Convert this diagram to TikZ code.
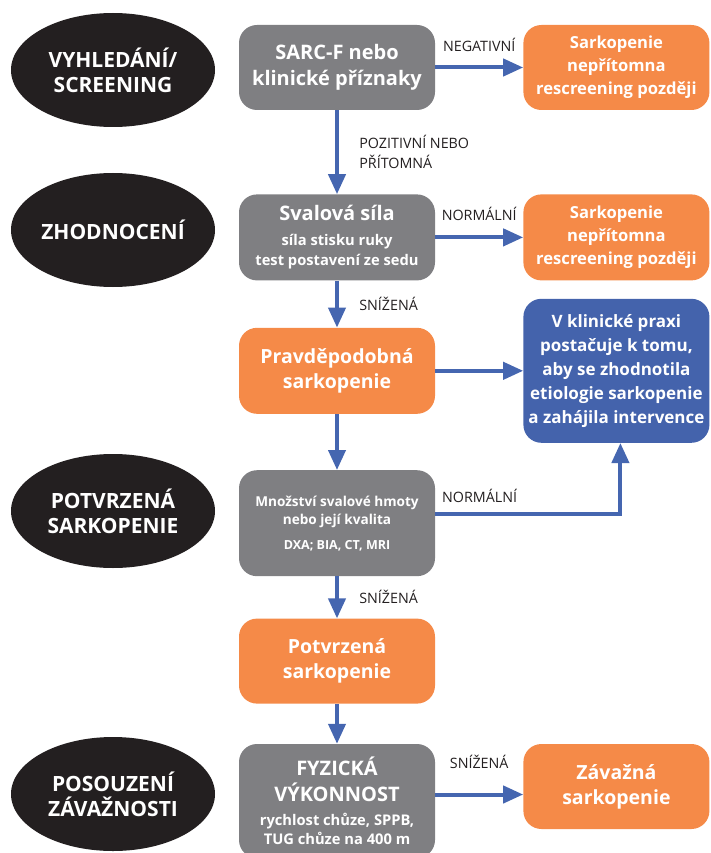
\documentclass[tikz,border=0pt]{standalone}
\usepackage{fontspec}
\setmainfont{Open Sans}
\usetikzlibrary{arrows.meta,positioning,calc,shapes.geometric}
\definecolor{skgrey}{HTML}{7F7F82}
\definecolor{skorange}{HTML}{F58A48}
\definecolor{skblue}{HTML}{4463AC}
\definecolor{skarrow}{HTML}{4566B0}
\definecolor{skdark}{HTML}{231F20}
\newcommand{\smtxt}{\fontsize{14.7}{20}\selectfont}
\newcommand{\hmtxt}{\fontsize{13.6}{18}\selectfont}
\newcommand{\tinytxt}{\fontsize{12.5}{18}\selectfont}

\begin{document}
\begin{tikzpicture}[
  x=1pt, y=1pt,
  phase/.style={ellipse, fill=skdark, text=white, inner sep=0pt,
                minimum width=204pt, minimum height=114pt, align=center,
                font=\bfseries\fontsize{21}{25}\selectfont},
  testbox/.style={fill=skgrey, text=white, rounded corners=18pt, inner sep=4pt,
                  minimum width=196pt, align=center,
                  font=\bfseries\fontsize{20}{26}\selectfont},
  resbox/.style={fill=skorange, text=white, rounded corners=18pt, inner sep=4pt,
                 align=center, font=\bfseries\fontsize{19.5}{25}\selectfont},
  sidebox/.style={resbox, minimum width=186pt,
                  font=\bfseries\fontsize{16.6}{23}\selectfont},
  praxbox/.style={fill=skblue, text=white, rounded corners=18pt, inner sep=4pt,
                  minimum width=186pt, align=center,
                  font=\bfseries\fontsize{17}{24}\selectfont},
  arrow/.style={-{Triangle[length=20pt,width=17pt]}, skarrow, line width=4pt},
  lbl/.style={font=\fontsize{14.3}{20}\selectfont, text=skdark, align=left},
]
  \useasboundingbox (0,0) rectangle (710,-853);

  %% Phases on the left
  \node[phase] (ph1) at (113,-70)  {VYHLEDÁNÍ/\\SCREENING};
  \node[phase] (ph2) at (113,-230) {ZHODNOCENÍ};
  \node[phase] (ph3) at (113,-511) {POTVRZENÁ\\SARKOPENIE};
  \node[phase] (ph4) at (113,-794) {POSOUZENÍ\\ZÁVAŽNOSTI};

  %% Main column
  \node[testbox, minimum height=85pt] (sarc) at (337,-67.5)
    {SARC-F nebo\\klinické příznaky};
  \node[testbox, minimum height=86pt, below=84pt of sarc] (sila)
    {Svalová síla\\[-1pt]\smtxt síla stisku ruky\\[-6pt]\smtxt test postavení ze sedu};
  \node[resbox, minimum width=196pt, minimum height=86pt, below=47pt of sila] (pravd)
    {Pravděpodobná\\sarkopenie};
  \node[testbox, minimum height=106pt, below=56pt of pravd] (hmota)
    {\hmtxt Množství svalové hmoty\\[-8pt]\hmtxt nebo její kvalita\\[-1pt]\tinytxt DXA; BIA, CT, MRI};
  \node[resbox, minimum width=196pt, minimum height=85pt, below=42pt of hmota] (potvr)
    {Potvrzená\\sarkopenie};
  \node[testbox, minimum height=114pt, below=40pt of potvr] (fyz)
    {FYZICKÁ\\VÝKONNOST\\[-2pt]\smtxt rychlost chůze, SPPB,\\[-7pt]\smtxt TUG chůze na 400 m};

  %% Right column
  \node[sidebox, minimum height=85pt, right=88pt of sarc] (neg1)
    {Sarkopenie\\nepřítomna\\rescreening později};
  \node[sidebox, minimum height=86pt, right=88pt of sila] (neg2)
    {Sarkopenie\\nepřítomna\\rescreening později};
  \node[praxbox, minimum height=144pt, right=88pt of pravd] (praxe)
    {V klinické praxi\\postačuje k tomu,\\aby se zhodnotila\\etiologie sarkopenie\\a zahájila intervence};
  \node[resbox, minimum width=186pt, minimum height=85pt, anchor=north west]
    (zavaz) at ([xshift=88pt]fyz.north east) {Závažná\\sarkopenie};

  %% Arrows down the main column
  \draw[arrow] (sarc.south) -- (sila.north)
    node[lbl, midway, right=17pt] {POZITIVNÍ NEBO\\PŘÍTOMNÁ};
  \draw[arrow] (sila.south) -- (pravd.north)
    node[lbl, midway, right=17pt] {SNÍŽENÁ};
  \draw[arrow] (pravd.south) -- (hmota.north);
  \draw[arrow] (hmota.south) -- (potvr.north)
    node[lbl, midway, right=17pt] {SNÍŽENÁ};
  \draw[arrow] (potvr.south) -- (fyz.north);

  %% Arrows to the right
  \draw[arrow] (sarc.east) -- (neg1.west)
    node[lbl, midway, above=11pt] {NEGATIVNÍ};
  \draw[arrow] (sila.east) -- (neg2.west)
    node[lbl, midway, above=11pt] {NORMÁLNÍ};
  \draw[arrow] (pravd.east) -- (pravd.east -| praxe.west);
  \draw[arrow] ([yshift=9pt]hmota.east) -| ([xshift=4pt]praxe.south)
    node[lbl, pos=0.12, above=6pt] {NORMÁLNÍ};
  \draw[arrow] ([yshift=-8pt]zavaz.west -| fyz.east) -- ([yshift=-8pt]zavaz.west)
    node[lbl, midway, above=21pt] {SNÍŽENÁ};

\end{tikzpicture}
\end{document}
